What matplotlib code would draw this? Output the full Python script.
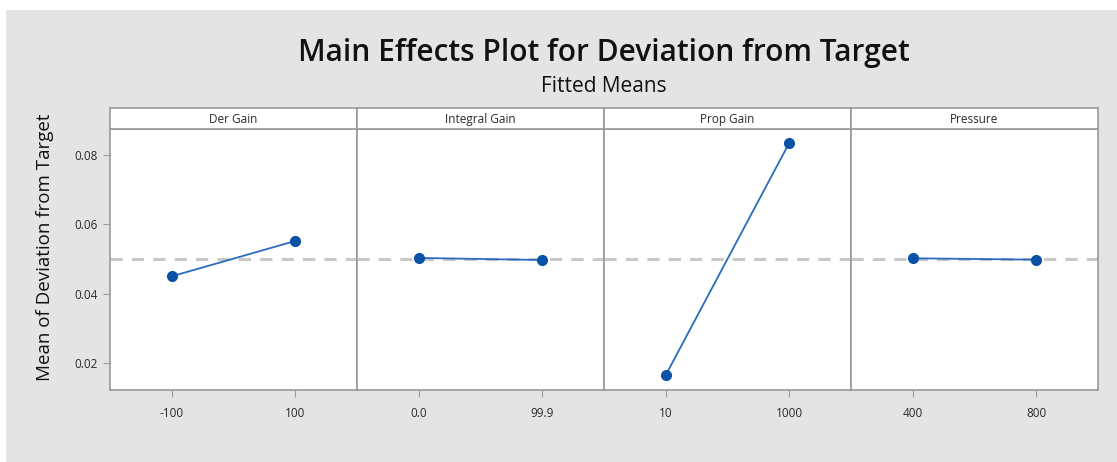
import numpy as np
import matplotlib.pyplot as plt
from matplotlib.patches import Rectangle

factors = ['Der Gain', 'Integral Gain', 'Prop Gain', 'Pressure']
levels = [['-100', '100'], ['0.0', '99.9'], ['10', '1000'], ['400', '800']]
means = [[0.0450, 0.0552], [0.0503, 0.0497], [0.0165, 0.0835], [0.0502, 0.0498]]
grand_mean = 0.0500

W, H = 1117, 462
fig = plt.figure(figsize=(W / 100, H / 100), dpi=100, facecolor='white')
plt.rcParams['font.family'] = ['Open Sans', 'DejaVu Sans']

# light gray backdrop
fig.patches.append(Rectangle((6 / W, 0), 1 - 6 / W, 1 - 10 / H, transform=fig.transFigure,
                             facecolor='#e4e4e4', edgecolor='none', zorder=-10))

left, right = 110 / W, 1098 / W
bottom, top, strip_top = 1 - 390 / H, 1 - 129 / H, 1 - 108 / H
pw = (right - left) / len(factors)
frame = '#9a9a9a'

for i, name in enumerate(factors):
    ax = fig.add_axes([left + i * pw, bottom, pw, top - bottom])
    ax.axhline(grand_mean, color='#c8c8c8', lw=2.2, ls=(0, (4, 3)), zorder=1)
    ax.plot([0, 1], means[i], color='#2a6bc0', lw=1.3, marker='o', ms=7,
            mfc='#0a52a8', mec='#0a52a8', zorder=3)
    ax.set_xlim(-0.5, 1.5)
    ax.set_ylim(0.0122, 0.0875)
    ax.set_xticks([0, 1])
    ax.set_xticklabels(levels[i])
    ax.tick_params(axis='x', length=5, color=frame, labelsize=8.5, labelcolor='#2a2a2a', pad=7)
    if i == 0:
        ax.set_yticks([0.02, 0.04, 0.06, 0.08])
        ax.set_yticklabels(['0.02', '0.04', '0.06', '0.08'])
        ax.tick_params(axis='y', length=5, color=frame, labelsize=8.5, labelcolor='#2a2a2a')
    else:
        ax.set_yticks([])
    for s in ax.spines.values():
        s.set_color(frame)
        s.set_linewidth(1.2)

    sx = fig.add_axes([left + i * pw, top, pw, strip_top - top])
    sx.set_xticks([])
    sx.set_yticks([])
    for s in sx.spines.values():
        s.set_color(frame)
        s.set_linewidth(1.2)
    sx.text(0.5, 0.45, name, ha='center', va='center', fontsize=8.5, color='#2a2a2a',
            transform=sx.transAxes)

fig.text((left + right) / 2, 1 - 53 / H, 'Main Effects Plot for Deviation from Target',
         ha='center', va='center', fontsize=21.5, fontweight='semibold', color='#111111')
fig.text((left + right) / 2, 1 - 86 / H, 'Fitted Means', ha='center', va='center',
         fontsize=15, color='#111111')
fig.text(45 / W, 1 - 247 / H, 'Mean of Deviation from Target', rotation=90,
         ha='center', va='center', fontsize=13.5, color='#111111')

fig.savefig('out.png', dpi=100)
